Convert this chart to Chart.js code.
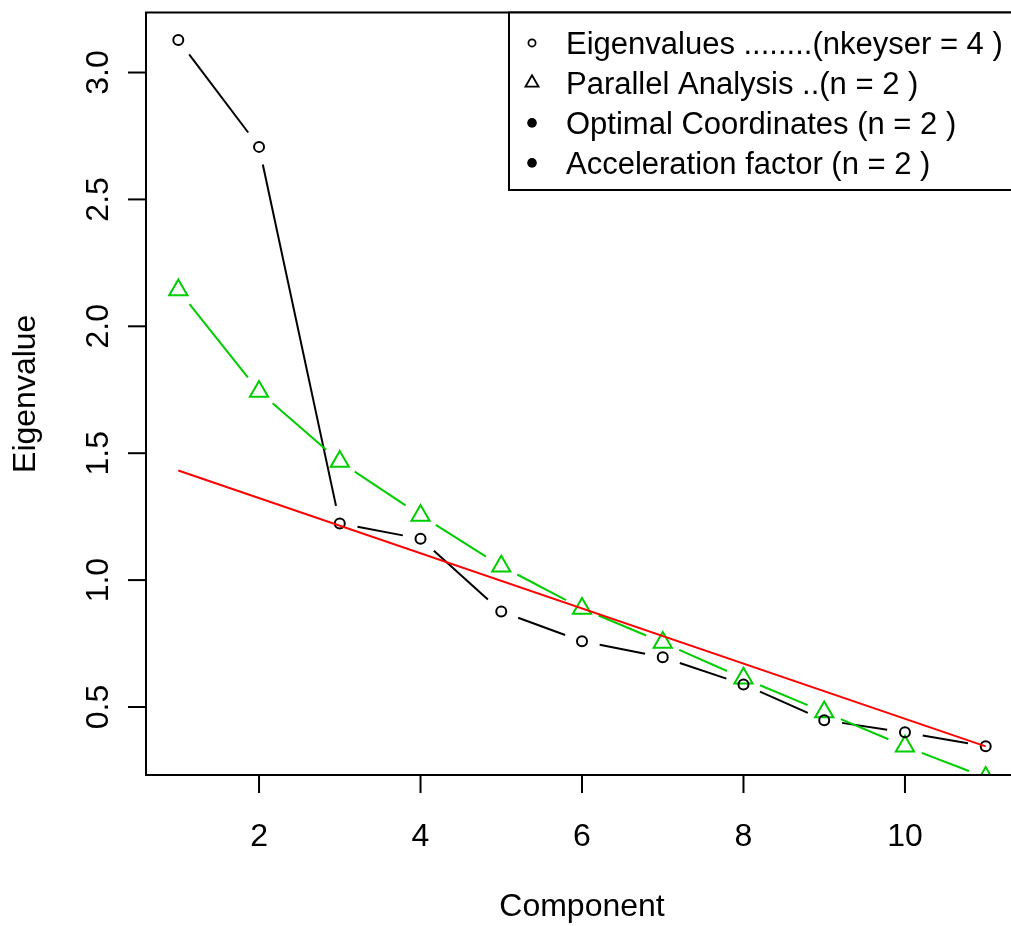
<!DOCTYPE html>
<html>
<head>
<meta charset="utf-8">
<title>Scree plot</title>
<script src="https://cdn.jsdelivr.net/npm/chart.js@4/dist/chart.umd.min.js"></script>
<style>
  html, body { margin: 0; padding: 0; background: #fff; overflow: hidden; }
  canvas { display: block; }
</style>
</head>
<body>
<canvas id="scree" width="1040" height="926"></canvas>
<script>
// Data
const components = [1, 2, 3, 4, 5, 6, 7, 8, 9, 10, 11];
const eigenvalues = [3.128, 2.707, 1.223, 1.163, 0.876, 0.759, 0.696, 0.589, 0.448, 0.400, 0.345];
const parallelAnalysis = [2.143, 1.743, 1.467, 1.255, 1.055, 0.888, 0.754, 0.613, 0.480, 0.345, 0.222];
const fitX = [1, 11];
const fitY = [1.432, 0.345];

const xTicks = [2, 4, 6, 8, 10];
const yTicks = [0.5, 1.0, 1.5, 2.0, 2.5, 3.0];
const yTickLabels = ["0.5", "1.0", "1.5", "2.0", "2.5", "3.0"];

const legendLabels = [
  "Eigenvalues ........(nkeyser = 4 )",
  "Parallel Analysis ..(n = 2 )",
  "Optimal Coordinates (n = 2 )",
  "Acceleration factor (n = 2 )"
];

const GREEN = "#00CD00";
const FONT = "Liberation Sans, Arial, Helvetica, sans-serif";
const GAP = 18; // R type="b" gap around points
const LW = 2;

function toXY(xs, ys) {
  return xs.map((x, i) => ({ x: x, y: ys[i] }));
}

// segments between points, with a gap at each point (like R type = "b")
const gapLines = {
  id: "gapLines",
  beforeDatasetsDraw(chart) {
    const ctx = chart.ctx;
    const a = chart.chartArea;
    ctx.save();
    ctx.beginPath();
    ctx.rect(a.left, a.top, a.right - a.left, a.bottom - a.top);
    ctx.clip();
    chart.data.datasets.forEach((ds, i) => {
      if (!ds.gapLine) return;
      const pts = chart.getDatasetMeta(i).data;
      ctx.strokeStyle = ds.borderColor;
      ctx.lineWidth = LW;
      for (let k = 1; k < pts.length; k++) {
        const p = pts[k - 1], q = pts[k];
        const dx = q.x - p.x, dy = q.y - p.y;
        const len = Math.hypot(dx, dy);
        if (len <= 2 * GAP) continue;
        const ux = dx / len, uy = dy / len;
        ctx.beginPath();
        ctx.moveTo(p.x + ux * GAP, p.y + uy * GAP);
        ctx.lineTo(q.x - ux * GAP, q.y - uy * GAP);
        ctx.stroke();
      }
    });
    ctx.restore();
  }
};

// R style box, ticks, labels and legend
const rAxes = {
  id: "rAxes",
  afterDraw(chart) {
    const ctx = chart.ctx;
    const a = chart.chartArea;
    const xs = chart.scales.x, ys = chart.scales.y;
    ctx.save();
    ctx.strokeStyle = "#000";
    ctx.fillStyle = "#000";
    ctx.lineWidth = LW;
    ctx.strokeRect(a.left, a.top, a.right - a.left, a.bottom - a.top);

    ctx.font = "32px " + FONT;
    ctx.textAlign = "center";
    ctx.textBaseline = "alphabetic";
    xTicks.forEach((t) => {
      const px = xs.getPixelForValue(t);
      ctx.beginPath();
      ctx.moveTo(px, a.bottom);
      ctx.lineTo(px, a.bottom + 18);
      ctx.stroke();
      ctx.fillText(String(t), px, 846);
    });
    yTicks.forEach((t, i) => {
      const py = ys.getPixelForValue(t);
      ctx.beginPath();
      ctx.moveTo(a.left, py);
      ctx.lineTo(a.left - 18, py);
      ctx.stroke();
      ctx.save();
      ctx.translate(108, py);
      ctx.rotate(-Math.PI / 2);
      ctx.fillText(yTickLabels[i], 0, 0);
      ctx.restore();
    });

    ctx.fillText("Component", (a.left + a.right) / 2, 916);
    ctx.save();
    ctx.translate(35, (a.top + a.bottom) / 2);
    ctx.rotate(-Math.PI / 2);
    ctx.fillText("Eigenvalue", 0, 0);
    ctx.restore();

    // legend
    const lx = 509, ly = a.top, lr = a.right, lb = 190;
    ctx.fillStyle = "#fff";
    ctx.fillRect(lx, ly, lr - lx, lb - ly);
    ctx.strokeRect(lx, ly, lr - lx, lb - ly);
    ctx.fillStyle = "#000";
    ctx.font = "31px " + FONT;
    ctx.textAlign = "left";
    legendLabels.forEach((txt, i) => {
      const base = 54 + i * 40;
      const cy = base - 11.1;
      ctx.fillText(txt, 566, base);
      ctx.lineWidth = 1.75;
      ctx.beginPath();
      if (i === 0) {
        ctx.arc(532, cy, 3.6, 0, Math.PI * 2);
        ctx.stroke();
      } else if (i === 1) {
        const r = 7.6;
        ctx.moveTo(532, cy - r);
        ctx.lineTo(532 + r * 0.866, cy + r / 2);
        ctx.lineTo(532 - r * 0.866, cy + r / 2);
        ctx.closePath();
        ctx.stroke();
      } else {
        ctx.arc(532, cy, 4.8, 0, Math.PI * 2);
        ctx.fill();
      }
    });
    ctx.restore();
  }
};

new Chart(document.getElementById("scree"), {
  type: "scatter",
  data: {
    datasets: [
      {
        label: "fit",
        data: toXY(fitX, fitY),
        showLine: true,
        borderColor: "#FF0000",
        borderWidth: LW,
        pointRadius: 0,
        clip: 0
      },
      {
        label: "Eigenvalues",
        data: toXY(components, eigenvalues),
        gapLine: true,
        showLine: false,
        borderColor: "#000",
        pointStyle: "circle",
        pointRadius: 5,
        pointBorderWidth: 2,
        pointBorderColor: "#000",
        pointBackgroundColor: "rgba(0,0,0,0)",
        clip: 0
      },
      {
        label: "Parallel Analysis",
        data: toXY(components, parallelAnalysis),
        gapLine: true,
        showLine: false,
        borderColor: GREEN,
        pointStyle: "triangle",
        pointRadius: 10.5,
        pointBorderWidth: 2,
        pointBorderColor: GREEN,
        pointBackgroundColor: "rgba(0,0,0,0)",
        clip: 0
      }
    ]
  },
  options: {
    responsive: false,
    animation: false,
    devicePixelRatio: 1,
    layout: { padding: { left: 146, right: 22, top: 9, bottom: 151 } },
    plugins: { legend: { display: false }, tooltip: { enabled: false } },
    scales: {
      x: { type: "linear", min: 0.6, max: 11.4, display: false },
      y: { type: "linear", min: 0.232, max: 3.2365, display: false }
    }
  },
  plugins: [gapLines, rAxes]
});
</script>
</body>
</html>
